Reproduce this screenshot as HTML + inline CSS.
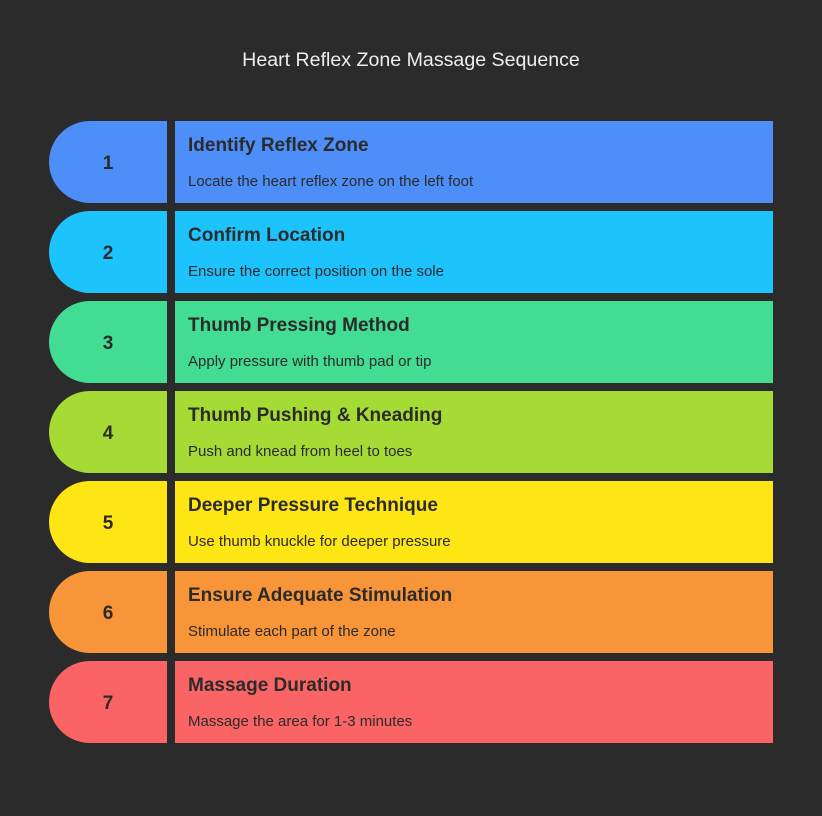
<!DOCTYPE html>
<html><head><style>
body{margin:0;width:822px;height:816px;background:#2b2b2b;font-family:"Liberation Sans",sans-serif;position:relative;overflow:hidden}
.t{position:absolute;top:49px;left:0;width:822px;text-align:center;color:#eee;font-size:19.6px}
.l{position:absolute;left:49px;width:118px;height:82px;border-radius:41px 0 0 41px;color:#2b2b2b;font-weight:bold;font-size:19px;line-height:86px;text-align:center}
.r{position:absolute;left:175px;width:598px;height:82px;color:#2b2b2b}
.r b{position:absolute;left:13px;top:14px;font-size:19px}
.r span{position:absolute;left:13px;top:52px;font-size:15px}
</style></head><body>
<div class="t">Heart Reflex Zone Massage Sequence</div>
<div class="l" style="top:121px;background:#4d8ef8">1</div><div class="r" style="top:121px;background:#4d8ef8"><b>Identify Reflex Zone</b><span>Locate the heart reflex zone on the left foot</span></div>
<div class="l" style="top:211px;background:#1dc3fc">2</div><div class="r" style="top:211px;background:#1dc3fc"><b>Confirm Location</b><span>Ensure the correct position on the sole</span></div>
<div class="l" style="top:301px;background:#42dd92">3</div><div class="r" style="top:301px;background:#42dd92"><b>Thumb Pressing Method</b><span>Apply pressure with thumb pad or tip</span></div>
<div class="l" style="top:391px;background:#a6da35">4</div><div class="r" style="top:391px;background:#a6da35"><b>Thumb Pushing &amp; Kneading</b><span>Push and knead from heel to toes</span></div>
<div class="l" style="top:481px;background:#fde614">5</div><div class="r" style="top:481px;background:#fde614"><b>Deeper Pressure Technique</b><span>Use thumb knuckle for deeper pressure</span></div>
<div class="l" style="top:571px;background:#f79538">6</div><div class="r" style="top:571px;background:#f79538"><b>Ensure Adequate Stimulation</b><span>Stimulate each part of the zone</span></div>
<div class="l" style="top:661px;background:#fb6464">7</div><div class="r" style="top:661px;background:#fb6464"><b>Massage Duration</b><span>Massage the area for 1-3 minutes</span></div>
</body></html>
